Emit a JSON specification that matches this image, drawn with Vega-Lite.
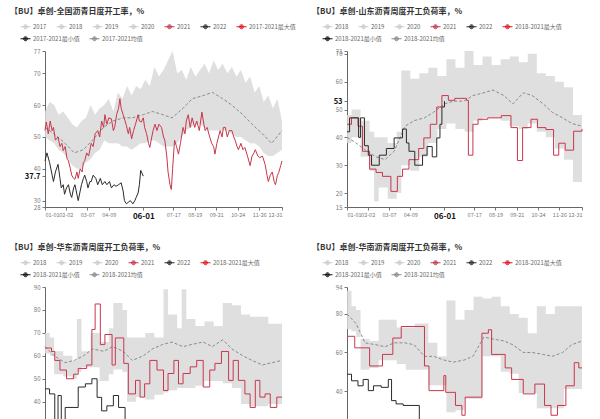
{
"$schema": "https://vega.github.io/schema/vega-lite/v6.json",
"background": "white",
"padding": {"left": 10, "top": 8, "right": 0, "bottom": 0},
"config": {
  "font": "Noto Sans CJK SC",
  "view": {"stroke": null},
  "axis": {"labelFontSize": 6, "labelColor": "#777", "domainColor": "#666", "tickColor": "#777", "tickSize": 3, "grid": false, "labelPadding": 2},
  "axisX": {"labelFontSize": 5.5},
  "title": {"fontSize": 8, "fontWeight": "bold", "color": "#333"},
  "legend": {"labelFontSize": 6, "labelColor": "#666", "padding": 0}
},
"datasets": {
"b1": [
{"d":"2022-01-01","v":50,"v2":58},{"d":"2022-01-08","v":49,"v2":61},{"d":"2022-01-15","v":48,"v2":60},{"d":"2022-01-22","v":46,"v2":57},{"d":"2022-01-29","v":45,"v2":58},{"d":"2022-02-05","v":43,"v2":56},{"d":"2022-02-12","v":41,"v2":54},{"d":"2022-02-19","v":40,"v2":53},{"d":"2022-02-26","v":40,"v2":55},{"d":"2022-03-05","v":42,"v2":56},{"d":"2022-03-12","v":43,"v2":60},{"d":"2022-03-19","v":45,"v2":57},{"d":"2022-03-26","v":46,"v2":59},{"d":"2022-04-02","v":49,"v2":60},{"d":"2022-04-09","v":48,"v2":62},{"d":"2022-04-16","v":48,"v2":58},{"d":"2022-04-23","v":48,"v2":64},{"d":"2022-04-30","v":47,"v2":62},{"d":"2022-05-07","v":47,"v2":66},{"d":"2022-05-14","v":46,"v2":63},{"d":"2022-05-21","v":47,"v2":66},{"d":"2022-05-28","v":48,"v2":65},{"d":"2022-06-04","v":48,"v2":68},{"d":"2022-06-11","v":49,"v2":66},{"d":"2022-06-18","v":49,"v2":72},{"d":"2022-06-25","v":48,"v2":69},{"d":"2022-07-02","v":47,"v2":71},{"d":"2022-07-09","v":47,"v2":74},{"d":"2022-07-16","v":47,"v2":77},{"d":"2022-07-23","v":48,"v2":70},{"d":"2022-07-30","v":50,"v2":71},{"d":"2022-08-06","v":52,"v2":68},{"d":"2022-08-13","v":53,"v2":72},{"d":"2022-08-20","v":54,"v2":69},{"d":"2022-08-27","v":54,"v2":71},{"d":"2022-09-03","v":53,"v2":73},{"d":"2022-09-10","v":52,"v2":70},{"d":"2022-09-17","v":52,"v2":74},{"d":"2022-09-24","v":52,"v2":71},{"d":"2022-10-01","v":52,"v2":73},{"d":"2022-10-08","v":52,"v2":70},{"d":"2022-10-15","v":51,"v2":72},{"d":"2022-10-22","v":50,"v2":69},{"d":"2022-10-29","v":50,"v2":71},{"d":"2022-11-05","v":49,"v2":67},{"d":"2022-11-12","v":48,"v2":69},{"d":"2022-11-19","v":48,"v2":64},{"d":"2022-11-26","v":47,"v2":66},{"d":"2022-12-03","v":45,"v2":61},{"d":"2022-12-10","v":44,"v2":63},{"d":"2022-12-17","v":44,"v2":59},{"d":"2022-12-24","v":45,"v2":62},{"d":"2022-12-31","v":46,"v2":55}
],
"l1": [
{"s":"2017-2021均值","d":"2022-01-01","v":53},{"s":"2017-2021均值","d":"2022-01-15","v":51},{"s":"2017-2021均值","d":"2022-02-01","v":48},{"s":"2017-2021均值","d":"2022-02-15","v":45},{"s":"2017-2021均值","d":"2022-03-01","v":46},{"s":"2017-2021均值","d":"2022-03-15","v":49},{"s":"2017-2021均值","d":"2022-04-01","v":53},{"s":"2017-2021均值","d":"2022-04-15","v":55},{"s":"2017-2021均值","d":"2022-05-01","v":56},{"s":"2017-2021均值","d":"2022-05-15","v":56},{"s":"2017-2021均值","d":"2022-06-01","v":57},{"s":"2017-2021均值","d":"2022-06-15","v":58},{"s":"2017-2021均值","d":"2022-07-01","v":57},{"s":"2017-2021均值","d":"2022-07-15","v":56},{"s":"2017-2021均值","d":"2022-08-01","v":59},{"s":"2017-2021均值","d":"2022-08-15","v":62},{"s":"2017-2021均值","d":"2022-09-01","v":63},{"s":"2017-2021均值","d":"2022-09-15","v":64},{"s":"2017-2021均值","d":"2022-10-01","v":62},{"s":"2017-2021均值","d":"2022-10-15","v":60},{"s":"2017-2021均值","d":"2022-11-01","v":57},{"s":"2017-2021均值","d":"2022-11-15","v":54},{"s":"2017-2021均值","d":"2022-12-01","v":51},{"s":"2017-2021均值","d":"2022-12-15","v":48},{"s":"2017-2021均值","d":"2022-12-31","v":52},
{"s":"2021","d":"2022-01-01","v":52},{"s":"2021","d":"2022-01-03","v":54.7},{"s":"2021","d":"2022-01-06","v":51},{"s":"2021","d":"2022-01-09","v":55},{"s":"2021","d":"2022-01-12","v":52},{"s":"2021","d":"2022-01-14","v":53},{"s":"2021","d":"2022-01-17","v":49},{"s":"2021","d":"2022-01-21","v":50},{"s":"2021","d":"2022-01-24","v":47},{"s":"2021","d":"2022-01-27","v":48},{"s":"2021","d":"2022-01-29","v":45.7},{"s":"2021","d":"2022-02-01","v":47},{"s":"2021","d":"2022-02-04","v":43},{"s":"2021","d":"2022-02-06","v":42.5},{"s":"2021","d":"2022-02-09","v":40},{"s":"2021","d":"2022-02-11","v":38},{"s":"2021","d":"2022-02-14","v":37},{"s":"2021","d":"2022-02-16","v":36.7},{"s":"2021","d":"2022-02-19","v":39},{"s":"2021","d":"2022-02-21","v":37},{"s":"2021","d":"2022-02-24","v":40},{"s":"2021","d":"2022-02-27","v":39},{"s":"2021","d":"2022-03-01","v":42},{"s":"2021","d":"2022-03-03","v":42.5},{"s":"2021","d":"2022-03-06","v":45},{"s":"2021","d":"2022-03-09","v":44},{"s":"2021","d":"2022-03-13","v":48},{"s":"2021","d":"2022-03-16","v":47},{"s":"2021","d":"2022-03-19","v":51},{"s":"2021","d":"2022-03-23","v":52},{"s":"2021","d":"2022-03-26","v":50},{"s":"2021","d":"2022-03-29","v":55},{"s":"2021","d":"2022-04-01","v":53},{"s":"2021","d":"2022-04-03","v":57},{"s":"2021","d":"2022-04-06","v":54},{"s":"2021","d":"2022-04-09","v":56},{"s":"2021","d":"2022-04-13","v":55.7},{"s":"2021","d":"2022-04-16","v":52},{"s":"2021","d":"2022-04-18","v":53},{"s":"2021","d":"2022-04-21","v":57},{"s":"2021","d":"2022-04-24","v":59},{"s":"2021","d":"2022-04-26","v":62},{"s":"2021","d":"2022-04-28","v":59},{"s":"2021","d":"2022-05-01","v":57},{"s":"2021","d":"2022-05-04","v":55},{"s":"2021","d":"2022-05-06","v":53.6},{"s":"2021","d":"2022-05-09","v":51},{"s":"2021","d":"2022-05-11","v":53},{"s":"2021","d":"2022-05-14","v":49.4},{"s":"2021","d":"2022-05-17","v":52},{"s":"2021","d":"2022-05-20","v":54},{"s":"2021","d":"2022-05-24","v":57},{"s":"2021","d":"2022-05-26","v":55},{"s":"2021","d":"2022-05-29","v":54.7},{"s":"2021","d":"2022-06-01","v":56},{"s":"2021","d":"2022-06-03","v":53},{"s":"2021","d":"2022-06-06","v":51},{"s":"2021","d":"2022-06-09","v":48},{"s":"2021","d":"2022-06-11","v":46.7},{"s":"2021","d":"2022-06-14","v":50},{"s":"2021","d":"2022-06-16","v":52},{"s":"2021","d":"2022-06-19","v":54},{"s":"2021","d":"2022-06-22","v":52},{"s":"2021","d":"2022-06-25","v":54},{"s":"2021","d":"2022-06-29","v":53},{"s":"2021","d":"2022-07-02","v":50},{"s":"2021","d":"2022-07-04","v":49},{"s":"2021","d":"2022-07-07","v":44},{"s":"2021","d":"2022-07-09","v":39},{"s":"2021","d":"2022-07-12","v":35},{"s":"2021","d":"2022-07-14","v":33.5},{"s":"2021","d":"2022-07-16","v":40},{"s":"2021","d":"2022-07-19","v":49},{"s":"2021","d":"2022-07-22","v":47},{"s":"2021","d":"2022-07-25","v":44.6},{"s":"2021","d":"2022-07-28","v":48},{"s":"2021","d":"2022-08-01","v":53},{"s":"2021","d":"2022-08-04","v":51},{"s":"2021","d":"2022-08-06","v":55},{"s":"2021","d":"2022-08-09","v":57},{"s":"2021","d":"2022-08-12","v":53},{"s":"2021","d":"2022-08-15","v":56},{"s":"2021","d":"2022-08-19","v":53},{"s":"2021","d":"2022-08-22","v":55},{"s":"2021","d":"2022-08-26","v":52},{"s":"2021","d":"2022-08-30","v":57.8},{"s":"2021","d":"2022-09-02","v":54},{"s":"2021","d":"2022-09-04","v":52},{"s":"2021","d":"2022-09-07","v":53},{"s":"2021","d":"2022-09-11","v":50},{"s":"2021","d":"2022-09-14","v":48},{"s":"2021","d":"2022-09-17","v":47},{"s":"2021","d":"2022-09-19","v":44.6},{"s":"2021","d":"2022-09-22","v":48},{"s":"2021","d":"2022-09-27","v":52},{"s":"2021","d":"2022-09-30","v":50},{"s":"2021","d":"2022-10-02","v":53},{"s":"2021","d":"2022-10-05","v":53},{"s":"2021","d":"2022-10-08","v":50},{"s":"2021","d":"2022-10-11","v":52},{"s":"2021","d":"2022-10-15","v":52},{"s":"2021","d":"2022-10-18","v":50},{"s":"2021","d":"2022-10-20","v":49},{"s":"2021","d":"2022-10-23","v":47},{"s":"2021","d":"2022-10-25","v":46},{"s":"2021","d":"2022-10-29","v":48},{"s":"2021","d":"2022-11-01","v":46},{"s":"2021","d":"2022-11-04","v":46.7},{"s":"2021","d":"2022-11-08","v":44},{"s":"2021","d":"2022-11-12","v":41},{"s":"2021","d":"2022-11-15","v":44},{"s":"2021","d":"2022-11-18","v":45},{"s":"2021","d":"2022-11-20","v":46},{"s":"2021","d":"2022-11-24","v":44},{"s":"2021","d":"2022-11-27","v":43.5},{"s":"2021","d":"2022-12-01","v":44},{"s":"2021","d":"2022-12-05","v":41.4},{"s":"2021","d":"2022-12-08","v":38},{"s":"2021","d":"2022-12-10","v":36},{"s":"2021","d":"2022-12-13","v":38},{"s":"2021","d":"2022-12-16","v":39},{"s":"2021","d":"2022-12-19","v":36},{"s":"2021","d":"2022-12-21","v":35},{"s":"2021","d":"2022-12-24","v":38},{"s":"2021","d":"2022-12-26","v":38.8},{"s":"2021","d":"2022-12-29","v":41},{"s":"2021","d":"2022-12-31","v":42.5},
{"s":"2022","d":"2022-01-01","v":42.5},{"s":"2022","d":"2022-01-04","v":45},{"s":"2022","d":"2022-01-08","v":42},{"s":"2022","d":"2022-01-12","v":38},{"s":"2022","d":"2022-01-14","v":36},{"s":"2022","d":"2022-01-17","v":39},{"s":"2022","d":"2022-01-21","v":41.4},{"s":"2022","d":"2022-01-24","v":37},{"s":"2022","d":"2022-01-26","v":34},{"s":"2022","d":"2022-01-29","v":35},{"s":"2022","d":"2022-01-31","v":32},{"s":"2022","d":"2022-02-03","v":34},{"s":"2022","d":"2022-02-06","v":35},{"s":"2022","d":"2022-02-09","v":32},{"s":"2022","d":"2022-02-11","v":31},{"s":"2022","d":"2022-02-14","v":34},{"s":"2022","d":"2022-02-16","v":35},{"s":"2022","d":"2022-02-19","v":32},{"s":"2022","d":"2022-02-21","v":30},{"s":"2022","d":"2022-02-24","v":33},{"s":"2022","d":"2022-02-26","v":35},{"s":"2022","d":"2022-03-01","v":37},{"s":"2022","d":"2022-03-03","v":38},{"s":"2022","d":"2022-03-06","v":36},{"s":"2022","d":"2022-03-08","v":34},{"s":"2022","d":"2022-03-11","v":36},{"s":"2022","d":"2022-03-13","v":36},{"s":"2022","d":"2022-03-16","v":38},{"s":"2022","d":"2022-03-20","v":37},{"s":"2022","d":"2022-03-23","v":35},{"s":"2022","d":"2022-03-27","v":37},{"s":"2022","d":"2022-03-30","v":35},{"s":"2022","d":"2022-04-03","v":36},{"s":"2022","d":"2022-04-06","v":35},{"s":"2022","d":"2022-04-10","v":36},{"s":"2022","d":"2022-04-13","v":34},{"s":"2022","d":"2022-04-17","v":35},{"s":"2022","d":"2022-04-20","v":34.5},{"s":"2022","d":"2022-04-24","v":35},{"s":"2022","d":"2022-04-28","v":35.6},{"s":"2022","d":"2022-05-01","v":33},{"s":"2022","d":"2022-05-03","v":30},{"s":"2022","d":"2022-05-06","v":29},{"s":"2022","d":"2022-05-09","v":29.5},{"s":"2022","d":"2022-05-12","v":30},{"s":"2022","d":"2022-05-16","v":29},{"s":"2022","d":"2022-05-19","v":30},{"s":"2022","d":"2022-05-21","v":31},{"s":"2022","d":"2022-05-24","v":32.4},{"s":"2022","d":"2022-05-26","v":35},{"s":"2022","d":"2022-05-28","v":39.5},{"s":"2022","d":"2022-06-01","v":37.7}
],
"b2": [
{"d":"2022-01-01","v":38,"v2":48},{"d":"2022-01-08","v":40,"v2":50},{"d":"2022-01-22","v":33,"v2":46},{"d":"2022-02-05","v":28,"v2":42},{"d":"2022-02-12","v":17,"v2":40},{"d":"2022-02-19","v":22,"v2":40},{"d":"2022-03-05","v":18,"v2":38},{"d":"2022-03-19","v":20,"v2":42},{"d":"2022-03-26","v":30,"v2":64},{"d":"2022-04-09","v":28,"v2":61},{"d":"2022-04-23","v":33,"v2":63},{"d":"2022-05-07","v":38,"v2":65},{"d":"2022-05-21","v":43,"v2":62},{"d":"2022-06-04","v":45,"v2":68},{"d":"2022-06-18","v":43,"v2":65},{"d":"2022-07-02","v":42,"v2":71},{"d":"2022-07-16","v":46,"v2":66},{"d":"2022-07-30","v":47,"v2":69},{"d":"2022-08-13","v":47,"v2":66},{"d":"2022-08-27","v":46,"v2":68},{"d":"2022-09-10","v":44,"v2":69},{"d":"2022-09-24","v":43,"v2":67},{"d":"2022-10-08","v":45,"v2":70},{"d":"2022-10-22","v":42,"v2":63},{"d":"2022-11-05","v":40,"v2":62},{"d":"2022-11-19","v":36,"v2":60},{"d":"2022-12-03","v":32,"v2":58},{"d":"2022-12-17","v":24,"v2":48},{"d":"2022-12-31","v":28,"v2":45}
],
"l2": [
{"s":"2018-2021均值","d":"2022-01-01","v":40},{"s":"2018-2021均值","d":"2022-01-15","v":38},{"s":"2018-2021均值","d":"2022-02-01","v":35},{"s":"2018-2021均值","d":"2022-02-15","v":33},{"s":"2018-2021均值","d":"2022-03-01","v":32},{"s":"2018-2021均值","d":"2022-03-15","v":35},{"s":"2018-2021均值","d":"2022-04-01","v":44},{"s":"2018-2021均值","d":"2022-04-15","v":46},{"s":"2018-2021均值","d":"2022-05-01","v":47},{"s":"2018-2021均值","d":"2022-05-15","v":49},{"s":"2018-2021均值","d":"2022-06-01","v":52},{"s":"2018-2021均值","d":"2022-06-15","v":53},{"s":"2018-2021均值","d":"2022-07-01","v":53},{"s":"2018-2021均值","d":"2022-07-15","v":55},{"s":"2018-2021均值","d":"2022-08-01","v":56},{"s":"2018-2021均值","d":"2022-08-15","v":57},{"s":"2018-2021均值","d":"2022-09-01","v":55},{"s":"2018-2021均值","d":"2022-09-15","v":52},{"s":"2018-2021均值","d":"2022-10-01","v":56},{"s":"2018-2021均值","d":"2022-10-15","v":55},{"s":"2018-2021均值","d":"2022-11-01","v":52},{"s":"2018-2021均值","d":"2022-11-15","v":49},{"s":"2018-2021均值","d":"2022-12-01","v":47},{"s":"2018-2021均值","d":"2022-12-15","v":45},{"s":"2018-2021均值","d":"2022-12-31","v":44},
{"s":"2021","d":"2022-01-01","v":44.7},{"s":"2021","d":"2022-01-08","v":47},{"s":"2021","d":"2022-01-18","v":44},{"s":"2021","d":"2022-01-25","v":35},{"s":"2021","d":"2022-02-05","v":28.6},{"s":"2021","d":"2022-02-15","v":27.4},{"s":"2021","d":"2022-02-25","v":26},{"s":"2021","d":"2022-03-10","v":20.6},{"s":"2021","d":"2022-03-20","v":26},{"s":"2021","d":"2022-03-28","v":28.6},{"s":"2021","d":"2022-04-07","v":32},{"s":"2021","d":"2022-04-22","v":36},{"s":"2021","d":"2022-04-30","v":39.8},{"s":"2021","d":"2022-05-10","v":44.7},{"s":"2021","d":"2022-05-20","v":50.9},{"s":"2021","d":"2022-05-28","v":55},{"s":"2021","d":"2022-06-07","v":53.3},{"s":"2021","d":"2022-06-17","v":54},{"s":"2021","d":"2022-07-05","v":53.3},{"s":"2021","d":"2022-07-08","v":33.6},{"s":"2021","d":"2022-07-15","v":44.7},{"s":"2021","d":"2022-07-23","v":46.5},{"s":"2021","d":"2022-08-07","v":47},{"s":"2021","d":"2022-08-28","v":47.8},{"s":"2021","d":"2022-09-12","v":43.5},{"s":"2021","d":"2022-09-22","v":31.7},{"s":"2021","d":"2022-09-30","v":43.5},{"s":"2021","d":"2022-10-13","v":46.5},{"s":"2021","d":"2022-10-23","v":43.5},{"s":"2021","d":"2022-11-05","v":42.8},{"s":"2021","d":"2022-11-17","v":33.6},{"s":"2021","d":"2022-11-25","v":37.9},{"s":"2021","d":"2022-12-05","v":35.4},{"s":"2021","d":"2022-12-18","v":42.2},{"s":"2021","d":"2022-12-31","v":43},
{"s":"2022","d":"2022-01-01","v":42},{"s":"2022","d":"2022-01-05","v":47},{"s":"2022","d":"2022-01-19","v":40},{"s":"2022","d":"2022-01-22","v":47},{"s":"2022","d":"2022-01-28","v":37},{"s":"2022","d":"2022-02-03","v":33.6},{"s":"2022","d":"2022-02-08","v":30},{"s":"2022","d":"2022-02-20","v":33.6},{"s":"2022","d":"2022-03-03","v":36},{"s":"2022","d":"2022-03-15","v":39.8},{"s":"2022","d":"2022-03-28","v":43},{"s":"2022","d":"2022-04-03","v":38},{"s":"2022","d":"2022-04-07","v":35},{"s":"2022","d":"2022-04-16","v":30},{"s":"2022","d":"2022-04-28","v":33.6},{"s":"2022","d":"2022-05-05","v":36.7},{"s":"2022","d":"2022-05-13","v":33},{"s":"2022","d":"2022-05-20","v":39.8},{"s":"2022","d":"2022-05-25","v":44.7},{"s":"2022","d":"2022-05-28","v":50.9},{"s":"2022","d":"2022-06-01","v":53}
],
"b3": [
{"d":"2022-01-01","v":61,"v2":70},{"d":"2022-01-08","v":60,"v2":68},{"d":"2022-01-15","v":52,"v2":62},{"d":"2022-01-29","v":51,"v2":60},{"d":"2022-02-12","v":50,"v2":58},{"d":"2022-02-19","v":53,"v2":76},{"d":"2022-02-26","v":55,"v2":62},{"d":"2022-03-12","v":55,"v2":70},{"d":"2022-03-26","v":49,"v2":66},{"d":"2022-04-09","v":52,"v2":72},{"d":"2022-04-16","v":54,"v2":83},{"d":"2022-04-30","v":53,"v2":80},{"d":"2022-05-07","v":40,"v2":68},{"d":"2022-05-21","v":42,"v2":68},{"d":"2022-06-04","v":41,"v2":70},{"d":"2022-06-18","v":43,"v2":68},{"d":"2022-07-02","v":44,"v2":89},{"d":"2022-07-09","v":45,"v2":78},{"d":"2022-07-23","v":46,"v2":72},{"d":"2022-07-30","v":46,"v2":89},{"d":"2022-08-06","v":46,"v2":76},{"d":"2022-08-20","v":47,"v2":73},{"d":"2022-09-03","v":49,"v2":75},{"d":"2022-09-17","v":49,"v2":73},{"d":"2022-10-01","v":48,"v2":83},{"d":"2022-10-15","v":46,"v2":82},{"d":"2022-10-29","v":39,"v2":78},{"d":"2022-11-12","v":38,"v2":77},{"d":"2022-11-26","v":38,"v2":77},{"d":"2022-12-10","v":39,"v2":74},{"d":"2022-12-31","v":39,"v2":74}
],
"l3": [
{"s":"2018-2021均值","d":"2022-01-01","v":64},{"s":"2018-2021均值","d":"2022-01-15","v":60},{"s":"2018-2021均值","d":"2022-02-01","v":57},{"s":"2018-2021均值","d":"2022-02-15","v":58},{"s":"2018-2021均值","d":"2022-03-01","v":60},{"s":"2018-2021均值","d":"2022-03-15","v":63},{"s":"2018-2021均值","d":"2022-04-01","v":62},{"s":"2018-2021均值","d":"2022-04-15","v":64},{"s":"2018-2021均值","d":"2022-05-01","v":62},{"s":"2018-2021均值","d":"2022-05-15","v":58},{"s":"2018-2021均值","d":"2022-06-01","v":60},{"s":"2018-2021均值","d":"2022-06-15","v":63},{"s":"2018-2021均值","d":"2022-07-01","v":65},{"s":"2018-2021均值","d":"2022-07-15","v":66},{"s":"2018-2021均值","d":"2022-08-01","v":64},{"s":"2018-2021均值","d":"2022-08-15","v":65},{"s":"2018-2021均值","d":"2022-09-01","v":66},{"s":"2018-2021均值","d":"2022-09-15","v":64},{"s":"2018-2021均值","d":"2022-10-01","v":67},{"s":"2018-2021均值","d":"2022-10-15","v":63},{"s":"2018-2021均值","d":"2022-11-01","v":60},{"s":"2018-2021均值","d":"2022-11-15","v":58},{"s":"2018-2021均值","d":"2022-12-01","v":56},{"s":"2018-2021均值","d":"2022-12-15","v":57},{"s":"2018-2021均值","d":"2022-12-31","v":58},
{"s":"2021","d":"2022-01-01","v":63.4},{"s":"2021","d":"2022-01-11","v":61.9},{"s":"2021","d":"2022-01-16","v":58},{"s":"2021","d":"2022-01-24","v":53.8},{"s":"2021","d":"2022-02-03","v":50},{"s":"2021","d":"2022-02-14","v":52},{"s":"2021","d":"2022-02-21","v":54.5},{"s":"2021","d":"2022-03-06","v":56},{"s":"2021","d":"2022-03-14","v":71.5},{"s":"2021","d":"2022-03-19","v":82.6},{"s":"2021","d":"2022-03-27","v":64.9},{"s":"2021","d":"2022-04-03","v":69.3},{"s":"2021","d":"2022-04-14","v":56},{"s":"2021","d":"2022-04-19","v":67.8},{"s":"2021","d":"2022-05-02","v":56.7},{"s":"2021","d":"2022-05-09","v":43.4},{"s":"2021","d":"2022-05-20","v":49.3},{"s":"2021","d":"2022-05-27","v":42},{"s":"2021","d":"2022-06-03","v":47.8},{"s":"2021","d":"2022-06-11","v":58},{"s":"2021","d":"2022-06-22","v":53.8},{"s":"2021","d":"2022-07-02","v":44.9},{"s":"2021","d":"2022-07-09","v":52.3},{"s":"2021","d":"2022-07-18","v":58},{"s":"2021","d":"2022-07-25","v":47.8},{"s":"2021","d":"2022-08-01","v":52.3},{"s":"2021","d":"2022-08-12","v":55.2},{"s":"2021","d":"2022-08-22","v":58},{"s":"2021","d":"2022-09-01","v":46.4},{"s":"2021","d":"2022-09-11","v":53.8},{"s":"2021","d":"2022-09-19","v":56.7},{"s":"2021","d":"2022-09-29","v":61.9},{"s":"2021","d":"2022-10-10","v":49.3},{"s":"2021","d":"2022-10-17","v":58},{"s":"2021","d":"2022-10-25","v":49.3},{"s":"2021","d":"2022-11-04","v":43.4},{"s":"2021","d":"2022-11-12","v":37.5},{"s":"2021","d":"2022-11-20","v":49.3},{"s":"2021","d":"2022-11-27","v":42},{"s":"2021","d":"2022-12-05","v":43.4},{"s":"2021","d":"2022-12-13","v":37.5},{"s":"2021","d":"2022-12-23","v":42},{"s":"2021","d":"2022-12-31","v":42},
{"s":"2022","d":"2022-01-01","v":45.6},{"s":"2022","d":"2022-01-08","v":43.4},{"s":"2022","d":"2022-01-16","v":31.6},{"s":"2022","d":"2022-01-21","v":42.7},{"s":"2022","d":"2022-01-26","v":30},{"s":"2022","d":"2022-02-01","v":37.5},{"s":"2022","d":"2022-02-21","v":46.4},{"s":"2022","d":"2022-03-04","v":47.8},{"s":"2022","d":"2022-03-14","v":50},{"s":"2022","d":"2022-03-22","v":41.9},{"s":"2022","d":"2022-03-29","v":36},{"s":"2022","d":"2022-04-06","v":38.2},{"s":"2022","d":"2022-04-16","v":42.7},{"s":"2022","d":"2022-04-24","v":37.5},{"s":"2022","d":"2022-05-04","v":31.6},{"s":"2022","d":"2022-05-15","v":28},{"s":"2022","d":"2022-06-01","v":27}
],
"b4": [
{"d":"2022-01-01","v":72,"v2":92},{"d":"2022-01-08","v":71,"v2":84},{"d":"2022-01-15","v":68,"v2":82},{"d":"2022-01-22","v":51,"v2":67},{"d":"2022-02-05","v":52,"v2":66},{"d":"2022-02-19","v":56,"v2":77},{"d":"2022-03-05","v":56,"v2":77},{"d":"2022-03-19","v":54,"v2":73},{"d":"2022-04-02","v":51,"v2":73},{"d":"2022-04-16","v":51,"v2":75},{"d":"2022-05-07","v":43,"v2":65},{"d":"2022-05-21","v":43,"v2":58},{"d":"2022-06-04","v":29,"v2":87},{"d":"2022-06-18","v":30,"v2":77},{"d":"2022-07-02","v":36,"v2":82},{"d":"2022-07-16","v":36,"v2":89},{"d":"2022-07-30","v":58,"v2":88},{"d":"2022-08-13","v":58,"v2":89},{"d":"2022-08-27","v":50,"v2":84},{"d":"2022-09-10","v":49,"v2":80},{"d":"2022-09-24","v":39,"v2":78},{"d":"2022-10-08","v":39,"v2":70},{"d":"2022-10-22","v":31,"v2":84},{"d":"2022-11-05","v":31,"v2":80},{"d":"2022-11-19","v":31,"v2":84},{"d":"2022-12-03","v":41,"v2":84},{"d":"2022-12-17","v":41,"v2":84},{"d":"2022-12-31","v":54,"v2":84}
],
"l4": [
{"s":"2018-2021均值","d":"2022-01-01","v":80},{"s":"2018-2021均值","d":"2022-01-15","v":75},{"s":"2018-2021均值","d":"2022-01-29","v":65},{"s":"2018-2021均值","d":"2022-02-15","v":64},{"s":"2018-2021均值","d":"2022-03-01","v":63},{"s":"2018-2021均值","d":"2022-03-15","v":65},{"s":"2018-2021均值","d":"2022-04-01","v":65},{"s":"2018-2021均值","d":"2022-04-15","v":64},{"s":"2018-2021均值","d":"2022-05-01","v":58},{"s":"2018-2021均值","d":"2022-05-15","v":58},{"s":"2018-2021均值","d":"2022-06-01","v":56},{"s":"2018-2021均值","d":"2022-06-15","v":55},{"s":"2018-2021均值","d":"2022-07-01","v":56},{"s":"2018-2021均值","d":"2022-07-15","v":58},{"s":"2018-2021均值","d":"2022-08-01","v":68},{"s":"2018-2021均值","d":"2022-08-15","v":67},{"s":"2018-2021均值","d":"2022-09-01","v":66},{"s":"2018-2021均值","d":"2022-09-15","v":64},{"s":"2018-2021均值","d":"2022-10-01","v":60},{"s":"2018-2021均值","d":"2022-10-15","v":60},{"s":"2018-2021均值","d":"2022-11-01","v":59},{"s":"2018-2021均值","d":"2022-11-15","v":58},{"s":"2018-2021均值","d":"2022-12-01","v":60},{"s":"2018-2021均值","d":"2022-12-15","v":64},{"s":"2018-2021均值","d":"2022-12-31","v":66},
{"s":"2021","d":"2022-01-01","v":68.4},{"s":"2021","d":"2022-01-13","v":62.4},{"s":"2021","d":"2022-02-05","v":53},{"s":"2021","d":"2022-02-25","v":59},{"s":"2021","d":"2022-03-13","v":67.5},{"s":"2021","d":"2022-03-26","v":73.5},{"s":"2021","d":"2022-05-01","v":53},{"s":"2021","d":"2022-05-08","v":40.2},{"s":"2021","d":"2022-05-31","v":48},{"s":"2021","d":"2022-06-03","v":39.3},{"s":"2021","d":"2022-06-18","v":32.5},{"s":"2021","d":"2022-06-28","v":27.4},{"s":"2021","d":"2022-07-03","v":36.8},{"s":"2021","d":"2022-07-29","v":70},{"s":"2021","d":"2022-08-08","v":71.8},{"s":"2021","d":"2022-08-13","v":59},{"s":"2021","d":"2022-09-03","v":52},{"s":"2021","d":"2022-09-13","v":46},{"s":"2021","d":"2022-10-01","v":38.5},{"s":"2021","d":"2022-10-19","v":43.6},{"s":"2021","d":"2022-11-03","v":32.5},{"s":"2021","d":"2022-11-13","v":27.4},{"s":"2021","d":"2022-11-23","v":32.5},{"s":"2021","d":"2022-12-06","v":42.7},{"s":"2021","d":"2022-12-19","v":54.7},{"s":"2021","d":"2022-12-26","v":52},{"s":"2021","d":"2022-12-31","v":52},
{"s":"2022","d":"2022-01-01","v":48.7},{"s":"2022","d":"2022-01-08","v":45.3},{"s":"2022","d":"2022-01-18","v":42.7},{"s":"2022","d":"2022-01-26","v":46},{"s":"2022","d":"2022-02-03","v":40.2},{"s":"2022","d":"2022-02-11","v":42.7},{"s":"2022","d":"2022-02-23","v":41.9},{"s":"2022","d":"2022-03-06","v":46},{"s":"2022","d":"2022-03-11","v":35},{"s":"2022","d":"2022-03-18","v":33.3},{"s":"2022","d":"2022-03-29","v":32.5},{"s":"2022","d":"2022-04-23","v":24},{"s":"2022","d":"2022-05-10","v":22},{"s":"2022","d":"2022-06-01","v":23}
]
},
"columns": 2,
"spacing": {"row": 24, "column": 16},
"resolve": {"scale": {"color": "independent", "stroke": "independent", "strokeDash": "independent", "x": "independent", "y": "independent"}, "legend": {"color": "independent", "stroke": "independent"}, "axis": {"x": "independent", "y": "independent"}},
"concat": [
{
"title": {"text": "【BU】卓创-全国沥青日度开工率，%", "anchor": "start", "dx": -10, "offset": 5},
"width": 237, "height": 156,
"encoding": {
  "x": {"field": "d", "type": "temporal", "title": null, "scale": {"type": "utc", "domain": [{"year": 2022, "month": 1, "date": 1, "utc": true}, {"year": 2022, "month": 12, "date": 31, "utc": true}]},
   "axis": {"labelExpr": "utcFormat(datum.value, '%m-%d')", "labelOverlap": false, "values": [{"year":2022,"month":1,"date":1,"utc":true},{"year":2022,"month":2,"date":2,"utc":true},{"year":2022,"month":3,"date":7,"utc":true},{"year":2022,"month":4,"date":9,"utc":true},{"year":2022,"month":6,"date":1,"utc":true},{"year":2022,"month":7,"date":17,"utc":true},{"year":2022,"month":8,"date":19,"utc":true},{"year":2022,"month":9,"date":21,"utc":true},{"year":2022,"month":10,"date":24,"utc":true},{"year":2022,"month":11,"date":26,"utc":true},{"year":2022,"month":12,"date":31,"utc":true}],
    "labelFontWeight": {"condition": {"test": "utcmonth(datum.value) == 5 && utcdate(datum.value) == 1", "value": "bold"}, "value": "normal"},
    "labelFontSize": {"condition": {"test": "utcmonth(datum.value) == 5 && utcdate(datum.value) == 1", "value": 8}, "value": 5.5},
    "labelColor": {"condition": {"test": "utcmonth(datum.value) == 5 && utcdate(datum.value) == 1", "value": "#111"}, "value": "#777"}}},
  "y": {"field": "v", "type": "quantitative", "title": null, "scale": {"domain": [28, 77], "nice": false, "zero": false},
   "axis": {"values": [28, 30, 37.7, 40, 50, 60, 70, 77], "format": ".3~g", "labelOverlap": false,
    "labelFontWeight": {"condition": {"test": "datum.value == 37.7", "value": "bold"}, "value": "normal"},
    "labelFontSize": {"condition": {"test": "datum.value == 37.7", "value": 7.5}, "value": 6},
    "labelColor": {"condition": {"test": "datum.value == 37.7", "value": "#111"}, "value": "#777"}}}
},
"layer": [
{"data": {"name": "b1"}, "mark": {"type": "area", "color": "#d9d9d9", "opacity": 0.85},
 "encoding": {"y2": {"field": "v2"}}},
{"data": {"name": "l1"}, "transform": [{"filter": "datum.s == '2017-2021均值'"}], "mark": {"type": "line", "strokeWidth": 1},
 "encoding": {
  "stroke": {"field": "s", "type": "nominal", "scale": {"domain": ["2017-2021最小值", "2017-2021均值"], "range": ["#111111", "#8a8a8a"]},
   "legend": {"orient": "none", "legendX": -25, "legendY": -18, "direction": "horizontal", "title": null, "labelFontSize": 6, "symbolType": "M-1,0H1M-0.4,0A0.4,0.4,0,1,1,0.4,0A0.4,0.4,0,1,1,-0.4,0M-0.22,0A0.22,0.22,0,1,1,0.22,0A0.22,0.22,0,1,1,-0.22,0M-0.06,0A0.06,0.06,0,1,1,0.06,0A0.06,0.06,0,1,1,-0.06,0", "symbolSize": 100, "symbolStrokeWidth": 1, "columnPadding": 7, "labelOffset": 2}},
  "strokeDash": {"field": "s", "type": "nominal", "legend": null, "scale": {"domain": ["2017-2021均值"], "range": [[3, 2]]}}}},
{"data": {"name": "l1"}, "transform": [{"filter": "datum.s != '2017-2021均值'"}], "mark": {"type": "line", "strokeWidth": 1},
 "encoding": {
  "color": {"field": "s", "type": "nominal",
   "scale": {"domain": ["2017","2018","2019","2020","2021","2022","2017-2021最大值"], "range": ["#cccccc","#cccccc","#cccccc","#cccccc","#c8374c","#2a2a2a","#e8141c"]},
   "legend": {"orient": "none", "legendX": -25, "legendY": -30, "direction": "horizontal", "title": null, "labelFontSize": 6, "symbolType": "M-1,0H1M-0.4,0A0.4,0.4,0,1,1,0.4,0A0.4,0.4,0,1,1,-0.4,0M-0.22,0A0.22,0.22,0,1,1,0.22,0A0.22,0.22,0,1,1,-0.22,0M-0.06,0A0.06,0.06,0,1,1,0.06,0A0.06,0.06,0,1,1,-0.06,0", "symbolSize": 100, "symbolStrokeWidth": 1, "columnPadding": 7, "labelOffset": 2,
    "encode": {"labels": {"fill": {"condition": {"test": "indexof(['2017','2018','2019','2020'], datum.value) >= 0", "value": "#c8c8c8"}, "value": "#666"}}}}}}}
]
},
{
"title": {"text": "【BU】卓创-山东沥青周度开工负荷率，%", "anchor": "start", "dx": -10, "offset": 5},
"width": 235, "height": 156,
"encoding": {
  "x": {"field": "d", "type": "temporal", "title": null, "scale": {"type": "utc", "domain": [{"year": 2022, "month": 1, "date": 1, "utc": true}, {"year": 2022, "month": 12, "date": 31, "utc": true}]},
   "axis": {"labelExpr": "utcFormat(datum.value, '%m-%d')", "labelOverlap": false, "values": [{"year":2022,"month":1,"date":1,"utc":true},{"year":2022,"month":2,"date":2,"utc":true},{"year":2022,"month":3,"date":7,"utc":true},{"year":2022,"month":4,"date":9,"utc":true},{"year":2022,"month":6,"date":1,"utc":true},{"year":2022,"month":7,"date":17,"utc":true},{"year":2022,"month":8,"date":19,"utc":true},{"year":2022,"month":9,"date":21,"utc":true},{"year":2022,"month":10,"date":24,"utc":true},{"year":2022,"month":11,"date":26,"utc":true},{"year":2022,"month":12,"date":31,"utc":true}],
    "labelFontWeight": {"condition": {"test": "utcmonth(datum.value) == 5 && utcdate(datum.value) == 1", "value": "bold"}, "value": "normal"},
    "labelFontSize": {"condition": {"test": "utcmonth(datum.value) == 5 && utcdate(datum.value) == 1", "value": 8}, "value": 5.5},
    "labelColor": {"condition": {"test": "utcmonth(datum.value) == 5 && utcdate(datum.value) == 1", "value": "#111"}, "value": "#777"}}},
  "y": {"field": "v", "type": "quantitative", "title": null, "scale": {"domain": [15, 71], "nice": false, "zero": false},
   "axis": {"values": [15, 20, 30, 40, 50, 53, 60, 70, 71], "format": ".3~g", "labelOverlap": false,
    "labelFontWeight": {"condition": {"test": "datum.value == 53", "value": "bold"}, "value": "normal"},
    "labelFontSize": {"condition": {"test": "datum.value == 53", "value": 7.5}, "value": 6},
    "labelColor": {"condition": {"test": "datum.value == 53", "value": "#111"}, "value": "#777"}}}
},
"layer": [
{"data": {"name": "b2"}, "mark": {"type": "area", "color": "#d9d9d9", "opacity": 0.85, "interpolate": "step-after"},
 "encoding": {"y2": {"field": "v2"}}},
{"data": {"name": "l2"}, "transform": [{"filter": "datum.s == '2018-2021均值'"}], "mark": {"type": "line", "strokeWidth": 1},
 "encoding": {
  "stroke": {"field": "s", "type": "nominal", "scale": {"domain": ["2018-2021最小值", "2018-2021均值"], "range": ["#111111", "#8a8a8a"]},
   "legend": {"orient": "none", "legendX": -25, "legendY": -18, "direction": "horizontal", "title": null, "labelFontSize": 6, "symbolType": "M-1,0H1M-0.4,0A0.4,0.4,0,1,1,0.4,0A0.4,0.4,0,1,1,-0.4,0M-0.22,0A0.22,0.22,0,1,1,0.22,0A0.22,0.22,0,1,1,-0.22,0M-0.06,0A0.06,0.06,0,1,1,0.06,0A0.06,0.06,0,1,1,-0.06,0", "symbolSize": 100, "symbolStrokeWidth": 1, "columnPadding": 7, "labelOffset": 2}},
  "strokeDash": {"field": "s", "type": "nominal", "legend": null, "scale": {"domain": ["2018-2021均值"], "range": [[3, 2]]}}}},
{"data": {"name": "l2"}, "transform": [{"filter": "datum.s != '2018-2021均值'"}], "mark": {"type": "line", "strokeWidth": 1, "interpolate": "step-after"},
 "encoding": {
  "color": {"field": "s", "type": "nominal",
   "scale": {"domain": ["2018","2019","2020","2021","2022","2018-2021最大值"], "range": ["#cccccc","#cccccc","#cccccc","#c8374c","#2a2a2a","#e8141c"]},
   "legend": {"orient": "none", "legendX": -25, "legendY": -30, "direction": "horizontal", "title": null, "labelFontSize": 6, "symbolType": "M-1,0H1M-0.4,0A0.4,0.4,0,1,1,0.4,0A0.4,0.4,0,1,1,-0.4,0M-0.22,0A0.22,0.22,0,1,1,0.22,0A0.22,0.22,0,1,1,-0.22,0M-0.06,0A0.06,0.06,0,1,1,0.06,0A0.06,0.06,0,1,1,-0.06,0", "symbolSize": 100, "symbolStrokeWidth": 1, "columnPadding": 7, "labelOffset": 2,
    "encode": {"labels": {"fill": {"condition": {"test": "indexof(['2017','2018','2019','2020'], datum.value) >= 0", "value": "#c8c8c8"}, "value": "#666"}}}}}}}
]
},
{
"title": {"text": "【BU】卓创-华东沥青周度开工负荷率，%", "anchor": "start", "dx": -10, "offset": 5},
"width": 237, "height": 156,
"encoding": {
  "x": {"field": "d", "type": "temporal", "title": null, "scale": {"type": "utc", "domain": [{"year": 2022, "month": 1, "date": 1, "utc": true}, {"year": 2022, "month": 12, "date": 31, "utc": true}]},
   "axis": {"labelExpr": "utcFormat(datum.value, '%m-%d')", "labelOverlap": false, "values": [{"year":2022,"month":1,"date":1,"utc":true},{"year":2022,"month":2,"date":2,"utc":true},{"year":2022,"month":3,"date":7,"utc":true},{"year":2022,"month":4,"date":9,"utc":true},{"year":2022,"month":6,"date":1,"utc":true},{"year":2022,"month":7,"date":17,"utc":true},{"year":2022,"month":8,"date":19,"utc":true},{"year":2022,"month":9,"date":21,"utc":true},{"year":2022,"month":10,"date":24,"utc":true},{"year":2022,"month":11,"date":26,"utc":true},{"year":2022,"month":12,"date":31,"utc":true}]}},
  "y": {"field": "v", "type": "quantitative", "title": null, "scale": {"domain": [22, 90], "nice": false, "zero": false},
   "axis": {"values": [22, 30, 40, 50, 60, 70, 80, 90], "format": ".3~g", "labelOverlap": false}}
},
"layer": [
{"data": {"name": "b3"}, "mark": {"type": "area", "color": "#d9d9d9", "opacity": 0.85, "interpolate": "step-after"},
 "encoding": {"y2": {"field": "v2"}}},
{"data": {"name": "l3"}, "transform": [{"filter": "datum.s == '2018-2021均值'"}], "mark": {"type": "line", "strokeWidth": 1},
 "encoding": {
  "stroke": {"field": "s", "type": "nominal", "scale": {"domain": ["2018-2021最小值", "2018-2021均值"], "range": ["#111111", "#8a8a8a"]},
   "legend": {"orient": "none", "legendX": -25, "legendY": -18, "direction": "horizontal", "title": null, "labelFontSize": 6, "symbolType": "M-1,0H1M-0.4,0A0.4,0.4,0,1,1,0.4,0A0.4,0.4,0,1,1,-0.4,0M-0.22,0A0.22,0.22,0,1,1,0.22,0A0.22,0.22,0,1,1,-0.22,0M-0.06,0A0.06,0.06,0,1,1,0.06,0A0.06,0.06,0,1,1,-0.06,0", "symbolSize": 100, "symbolStrokeWidth": 1, "columnPadding": 7, "labelOffset": 2}},
  "strokeDash": {"field": "s", "type": "nominal", "legend": null, "scale": {"domain": ["2018-2021均值"], "range": [[3, 2]]}}}},
{"data": {"name": "l3"}, "transform": [{"filter": "datum.s != '2018-2021均值'"}], "mark": {"type": "line", "strokeWidth": 1, "interpolate": "step-after"},
 "encoding": {
  "color": {"field": "s", "type": "nominal",
   "scale": {"domain": ["2018","2019","2020","2021","2022","2018-2021最大值"], "range": ["#cccccc","#cccccc","#cccccc","#c8374c","#2a2a2a","#e8141c"]},
   "legend": {"orient": "none", "legendX": -25, "legendY": -30, "direction": "horizontal", "title": null, "labelFontSize": 6, "symbolType": "M-1,0H1M-0.4,0A0.4,0.4,0,1,1,0.4,0A0.4,0.4,0,1,1,-0.4,0M-0.22,0A0.22,0.22,0,1,1,0.22,0A0.22,0.22,0,1,1,-0.22,0M-0.06,0A0.06,0.06,0,1,1,0.06,0A0.06,0.06,0,1,1,-0.06,0", "symbolSize": 100, "symbolStrokeWidth": 1, "columnPadding": 7, "labelOffset": 2,
    "encode": {"labels": {"fill": {"condition": {"test": "indexof(['2017','2018','2019','2020'], datum.value) >= 0", "value": "#c8c8c8"}, "value": "#666"}}}}}}}
]
},
{
"title": {"text": "【BU】卓创-华南沥青周度开工负荷率，%", "anchor": "start", "dx": -10, "offset": 5},
"width": 235, "height": 156,
"encoding": {
  "x": {"field": "d", "type": "temporal", "title": null, "scale": {"type": "utc", "domain": [{"year": 2022, "month": 1, "date": 1, "utc": true}, {"year": 2022, "month": 12, "date": 31, "utc": true}]},
   "axis": {"labelExpr": "utcFormat(datum.value, '%m-%d')", "labelOverlap": false, "values": [{"year":2022,"month":1,"date":1,"utc":true},{"year":2022,"month":2,"date":2,"utc":true},{"year":2022,"month":3,"date":7,"utc":true},{"year":2022,"month":4,"date":9,"utc":true},{"year":2022,"month":6,"date":1,"utc":true},{"year":2022,"month":7,"date":17,"utc":true},{"year":2022,"month":8,"date":19,"utc":true},{"year":2022,"month":9,"date":21,"utc":true},{"year":2022,"month":10,"date":24,"utc":true},{"year":2022,"month":11,"date":26,"utc":true},{"year":2022,"month":12,"date":31,"utc":true}]}},
  "y": {"field": "v", "type": "quantitative", "title": null, "scale": {"domain": [13, 94], "nice": false, "zero": false},
   "axis": {"values": [13, 20, 40, 60, 80, 94], "format": ".3~g", "labelOverlap": false}}
},
"layer": [
{"data": {"name": "b4"}, "mark": {"type": "area", "color": "#d9d9d9", "opacity": 0.85, "interpolate": "step-after"},
 "encoding": {"y2": {"field": "v2"}}},
{"data": {"name": "l4"}, "transform": [{"filter": "datum.s == '2018-2021均值'"}], "mark": {"type": "line", "strokeWidth": 1},
 "encoding": {
  "stroke": {"field": "s", "type": "nominal", "scale": {"domain": ["2018-2021最小值", "2018-2021均值"], "range": ["#111111", "#8a8a8a"]},
   "legend": {"orient": "none", "legendX": -25, "legendY": -18, "direction": "horizontal", "title": null, "labelFontSize": 6, "symbolType": "M-1,0H1M-0.4,0A0.4,0.4,0,1,1,0.4,0A0.4,0.4,0,1,1,-0.4,0M-0.22,0A0.22,0.22,0,1,1,0.22,0A0.22,0.22,0,1,1,-0.22,0M-0.06,0A0.06,0.06,0,1,1,0.06,0A0.06,0.06,0,1,1,-0.06,0", "symbolSize": 100, "symbolStrokeWidth": 1, "columnPadding": 7, "labelOffset": 2}},
  "strokeDash": {"field": "s", "type": "nominal", "legend": null, "scale": {"domain": ["2018-2021均值"], "range": [[3, 2]]}}}},
{"data": {"name": "l4"}, "transform": [{"filter": "datum.s != '2018-2021均值'"}], "mark": {"type": "line", "strokeWidth": 1, "interpolate": "step-after"},
 "encoding": {
  "color": {"field": "s", "type": "nominal",
   "scale": {"domain": ["2018","2019","2020","2021","2022","2018-2021最大值"], "range": ["#cccccc","#cccccc","#cccccc","#c8374c","#2a2a2a","#e8141c"]},
   "legend": {"orient": "none", "legendX": -25, "legendY": -30, "direction": "horizontal", "title": null, "labelFontSize": 6, "symbolType": "M-1,0H1M-0.4,0A0.4,0.4,0,1,1,0.4,0A0.4,0.4,0,1,1,-0.4,0M-0.22,0A0.22,0.22,0,1,1,0.22,0A0.22,0.22,0,1,1,-0.22,0M-0.06,0A0.06,0.06,0,1,1,0.06,0A0.06,0.06,0,1,1,-0.06,0", "symbolSize": 100, "symbolStrokeWidth": 1, "columnPadding": 7, "labelOffset": 2,
    "encode": {"labels": {"fill": {"condition": {"test": "indexof(['2017','2018','2019','2020'], datum.value) >= 0", "value": "#c8c8c8"}, "value": "#666"}}}}}}}
]
}
]
}
